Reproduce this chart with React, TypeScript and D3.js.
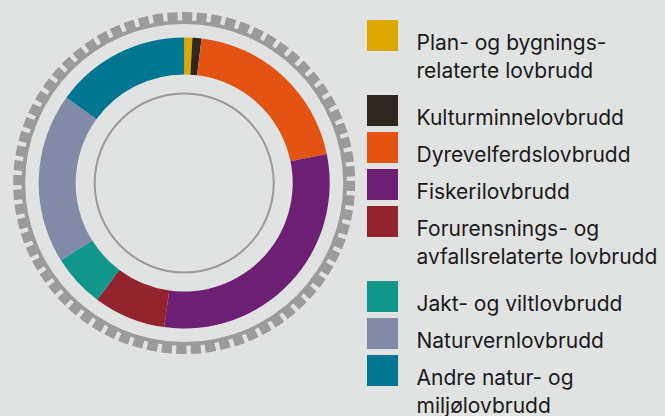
import React from "react";
import * as d3 from "d3";

// share of cases per category (percent)
const categories = [
  "Plan- og bygningsrelaterte lovbrudd",
  "Kulturminnelovbrudd",
  "Dyrevelferdslovbrudd",
  "Fiskerilovbrudd",
  "Forurensnings- og avfallsrelaterte lovbrudd",
  "Jakt- og viltlovbrudd",
  "Naturvernlovbrudd",
  "Andre natur- og miljølovbrudd",
];
const values = [0.9, 1.0, 19.9, 30.4, 8.0, 5.9, 18.9, 15.0];
const colors = ["#dca900", "#2f2820", "#e35412", "#6d1f74", "#93232c", "#10968a", "#838aa8", "#017690"];
// legend text, split into lines as in the original
const legendLines = [
  ["Plan- og bygnings-", "relaterte lovbrudd"],
  ["Kulturminnelovbrudd"],
  ["Dyrevelferdslovbrudd"],
  ["Fiskerilovbrudd"],
  ["Forurensnings- og", "avfallsrelaterte lovbrudd"],
  ["Jakt- og viltlovbrudd"],
  ["Naturvernlovbrudd"],
  ["Andre natur- og", "miljølovbrudd"],
];

const W = 665;
const H = 416;
const cx = 184.2;
const cy = 183;
const teeth = 72;

export default function App() {
  const pie = d3.pie<number>().sort(null).value((d) => d);
  const arcs = pie(values);
  const arc = d3.arc<d3.PieArcDatum<number>>().innerRadius(108.5).outerRadius(145.5);

  // gear ring: thin band plus square teeth
  const band = d3.arc()({ innerRadius: 159, outerRadius: 162.8, startAngle: 0, endAngle: 2 * Math.PI }) as string;
  const step = (2 * Math.PI) / teeth;
  const rot = (1 * Math.PI) / 180;
  const toothArc = d3.arc();
  const toothPaths = d3.range(teeth).map((i) =>
    toothArc({
      innerRadius: 162,
      outerRadius: 171,
      startAngle: i * step + rot - step * 0.35,
      endAngle: i * step + rot + step * 0.35,
    }) as string
  );

  let y = 20;
  const legend = categories.map((c, i) => {
    const top = y;
    y += 37 + (legendLines[i].length - 1) * 38;
    return { c, i, top };
  });

  return (
    <svg width={W} height={H} style={{ position: "absolute", left: 0, top: 0, background: "#e1e3e2" }}>
      <rect width={W} height={H} fill="#e1e3e2" />
      <g transform={`translate(${cx},${cy})`}>
        <path d={band} fill="#9b9b9b" />
        {toothPaths.map((d, i) => (
          <path key={i} d={d} fill="#9b9b9b" />
        ))}
        {arcs.map((a, i) => (
          <path key={i} d={arc(a) as string} fill={colors[i]} />
        ))}
        <circle r={89.5} fill="none" stroke="#9b9b9b" strokeWidth={2} />
      </g>
      <g fontFamily="Inter" fontSize={21} fill="#1a1a1a">
        {legend.map(({ c, i, top }) => (
          <g key={c}>
            <rect x={367} y={top} width={31} height={31} fill={colors[i]} />
            {legendLines[i].map((t, j) => (
              <text key={j} x={416.5} y={top + 30 + j * 28}>
                {t}
              </text>
            ))}
          </g>
        ))}
      </g>
    </svg>
  );
}
